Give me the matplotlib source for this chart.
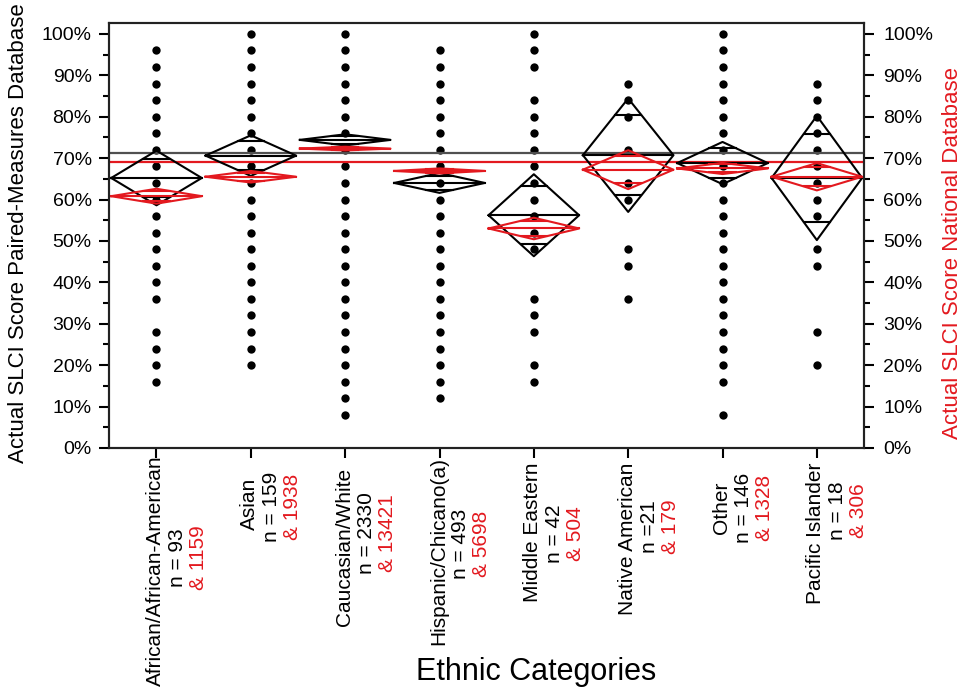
import numpy as np
import matplotlib
matplotlib.use("Agg")
import matplotlib.pyplot as plt
from matplotlib.ticker import MultipleLocator, FuncFormatter

plt.rcParams['font.family'] = ['Liberation Sans', 'DejaVu Sans']

RED = '#e3191f'

# ethnic groups, sample sizes (paired-measures / national)
groups = ['African/African-American', 'Asian', 'Caucasian/White',
          'Hispanic/Chicano(a)', 'Middle Eastern', 'Native American',
          'Other', 'Pacific Islander']
n_paired = ['n = 93', 'n = 159', 'n = 2330', 'n = 493', 'n = 42', 'n =21',
            'n = 146', 'n = 18']
n_national = ['& 1159', '& 1938', '& 13421', '& 5698', '& 504', '& 179',
              '& 1328', '& 306']

# distinct scores observed in each group (%)
scores = [
    [16, 20, 24, 28, 36, 40, 44, 48, 52, 56, 60, 64, 68, 72, 76, 80, 84, 88, 92, 96],
    [20, 24, 28, 32, 36, 40, 44, 48, 52, 56, 60, 64, 68, 72, 76, 80, 84, 88, 92, 96, 100],
    [8, 12, 16, 20, 24, 28, 32, 36, 40, 44, 48, 52, 56, 60, 64, 68, 72, 76, 80, 84,
     88, 92, 96, 100],
    [12, 16, 20, 24, 28, 32, 36, 40, 44, 48, 52, 56, 60, 64, 68, 72, 76, 80, 84, 88,
     92, 96],
    [16, 20, 28, 32, 36, 48, 52, 56, 60, 64, 68, 72, 76, 80, 84, 92, 96, 100],
    [36, 44, 48, 60, 64, 72, 80, 84, 88],
    [8, 16, 20, 24, 28, 32, 36, 40, 44, 48, 52, 56, 60, 64, 68, 72, 76, 80, 84, 88,
     92, 96, 100],
    [20, 28, 44, 48, 56, 60, 64, 68, 72, 76, 80, 84, 88],
]

# group means and 95% CI half-widths (%)
paired_mean = [65.2, 70.6, 74.4, 64.0, 56.2, 70.7, 68.8, 65.2]
paired_ci = [6.6, 4.9, 1.35, 2.4, 9.9, 13.7, 5.1, 15.0]
national_mean = [60.8, 65.5, 72.3, 66.9, 53.0, 67.2, 67.5, 65.5]
national_ci = [1.8, 1.4, 0.45, 0.6, 2.6, 4.7, 1.35, 3.3]
paired_grand = 71.3
national_grand = 69.0

# label placement below the axis (pixels)
line1_top = [7, 30, 20, 9, 15, 15, 34, 15]
line23_mid = [110, 59, 85, 96, 86, 79, 60, 63]

fig = plt.figure(figsize=(9.64, 6.98), dpi=100)
ax = fig.add_axes([0.1134, 0.3582, 0.7829, 0.6093])
x = np.arange(len(groups))


def means_diamond(ax, xc, m, h, color, w=0.48):
    ax.plot([xc - w, xc, xc + w, xc, xc - w], [m, m + h, m, m - h, m],
            color=color, lw=1.5, zorder=3)
    ax.plot([xc - w, xc + w], [m, m], color=color, lw=1.5, zorder=3)
    # overlap marks
    d = h / np.sqrt(2)
    ww = w * (1 - 1 / np.sqrt(2))
    for y in (m + d, m - d):
        ax.plot([xc - ww, xc + ww], [y, y], color=color, lw=1.5, zorder=3)


for i, s in enumerate(scores):
    ax.plot(np.full(len(s), x[i]), s, 'o', color='black', ms=6,
            mec='none', zorder=2)

ax.axhline(paired_grand, color='#505050', lw=1.6, zorder=2.5)
ax.axhline(national_grand, color=RED, lw=1.6, zorder=2.5)

for i in range(len(groups)):
    means_diamond(ax, x[i], paired_mean[i], paired_ci[i], 'black')
    means_diamond(ax, x[i], national_mean[i], national_ci[i], RED)

ax.set_xlim(-0.5, 7.5)
ax.set_ylim(0, 102.7)

pct = FuncFormatter(lambda v, p: f'{v:.0f}%')
ax.yaxis.set_major_locator(MultipleLocator(10))
ax.yaxis.set_minor_locator(MultipleLocator(5))
ax.yaxis.set_major_formatter(pct)
ax.set_xticks(x)
ax.set_xticklabels([])
ax.tick_params(axis='y', which='major', length=7.2, width=1.5, labelsize=14, pad=5.5)
ax.tick_params(axis='y', which='minor', length=4.3, width=1.5)
ax.tick_params(axis='x', length=7.2, width=1.5)

ax2 = ax.twinx()
ax2.set_ylim(ax.get_ylim())
ax2.yaxis.set_major_locator(MultipleLocator(10))
ax2.yaxis.set_minor_locator(MultipleLocator(5))
ax2.yaxis.set_major_formatter(pct)
ax2.tick_params(axis='y', which='major', length=7.2, width=1.5, labelsize=14, pad=6.5)
ax2.tick_params(axis='y', which='minor', length=4.3, width=1.5)

for a in (ax, ax2):
    for sp in a.spines.values():
        sp.set_linewidth(1.5)
        sp.set_color('#222222')

# rotated category labels, one text per line
for i in range(len(groups)):
    kw = dict(xycoords=('data', 'axes fraction'), xy=(x[i], 0),
              textcoords='offset pixels', rotation=90, fontsize=15,
              ha='center', annotation_clip=False)
    ax.annotate(groups[i], xytext=(-1, -line1_top[i]), va='top', **kw)
    ax.annotate(n_paired[i], xytext=(21, -line23_mid[i]), va='center', **kw)
    ax.annotate(n_national[i], xytext=(42, -line23_mid[i]), va='center',
                color=RED, **kw)

fig.text(536 / 964, 18 / 698, 'Ethnic Categories', fontsize=22,
         ha='center', va='baseline')
fig.text(19 / 964, 1 - 233 / 698, 'Actual SLCI Score Paired-Measures Database',
         fontsize=16, rotation=90, ha='center', va='center')
fig.text(953 / 964, 1 - 253 / 698, 'Actual SLCI Score National Database',
         fontsize=16, rotation=90, ha='center', va='center', color=RED)

fig.savefig('out.png', dpi=100)
